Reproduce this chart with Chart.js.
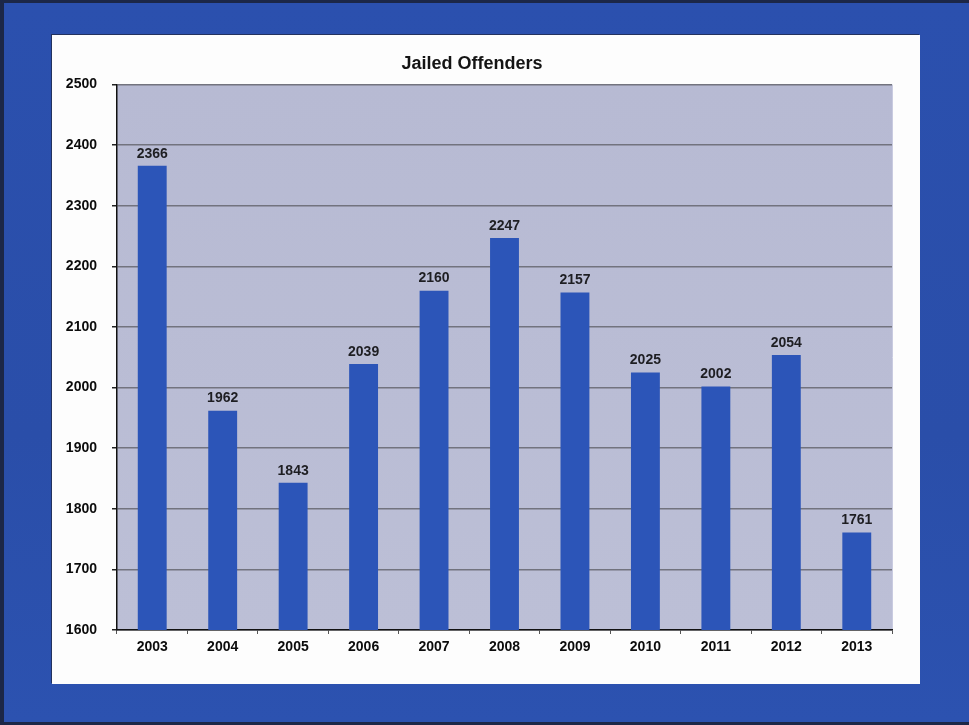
<!DOCTYPE html>
<html>
<head>
<meta charset="utf-8">
<script src="https://cdn.jsdelivr.net/npm/chart.js@4.4.1/dist/chart.umd.min.js"></script>
<style>
  html, body { margin: 0; padding: 0; }
  body {
    width: 969px; height: 725px; overflow: hidden;
    background: #2b50ae;
    position: relative;
    font-family: "Liberation Sans", Arial, sans-serif;
  }
  #frame {
    position: absolute; left: 0; top: 0; width: 965px; height: 719px;
    border-top: 3px solid #1c2747; border-left: 4px solid #1c2747;
    border-bottom: 3px solid #1c2747; border-right: 0;
    box-sizing: content-box;
    background: linear-gradient(180deg, #2b50ae 0%, #2a4ea9 60%, #2c52b0 100%);
  }
  #panel {
    position: absolute; left: 52px; top: 35px; width: 868px; height: 649px;
    background: #fdfdfd;
    box-shadow: -1px -1px 0 #23325e;
  }
  #chart { display: block; }
</style>
</head>
<body>
<div id="frame"></div>
<div id="panel"><canvas id="chart" width="868" height="649"></canvas></div>
<script>
// Jailed offenders per year
const years = ['2003', '2004', '2005', '2006', '2007', '2008', '2009', '2010', '2011', '2012', '2013'];
const offenders = [2366, 1962, 1843, 2039, 2160, 2247, 2157, 2025, 2002, 2054, 1761];
const yTicks = [1600, 1700, 1800, 1900, 2000, 2100, 2200, 2300, 2400, 2500];

const FONT = '"Liberation Sans", Arial, sans-serif';

// Lavender plot background behind the bars
const plotBackground = {
  id: 'plotBackground',
  beforeDraw(chart) {
    const { ctx, chartArea: a } = chart;
    ctx.save();
    const g = ctx.createLinearGradient(0, a.top, 0, a.bottom);
    g.addColorStop(0, '#b7bad3');
    g.addColorStop(1, '#bcbfd6');
    ctx.fillStyle = g;
    ctx.fillRect(a.left, a.top, a.right - a.left, a.bottom - a.top);
    ctx.strokeStyle = '#c9cbe0';
    ctx.lineWidth = 1;
    ctx.beginPath();
    ctx.moveTo(a.right + 0.5, a.top);
    ctx.lineTo(a.right + 0.5, a.bottom);
    ctx.stroke();
    ctx.restore();
  }
};

// Value printed above each bar
const valueLabels = {
  id: 'valueLabels',
  afterDatasetsDraw(chart) {
    const { ctx } = chart;
    const meta = chart.getDatasetMeta(0);
    ctx.save();
    ctx.font = 'bold 14px ' + FONT;
    ctx.fillStyle = '#1e1e22';
    ctx.textAlign = 'center';
    ctx.textBaseline = 'bottom';
    meta.data.forEach((bar, i) => {
      ctx.fillText(String(offenders[i]), bar.x, bar.y - 5);
    });
    ctx.restore();
  }
};

new Chart(document.getElementById('chart'), {
  type: 'bar',
  data: {
    labels: years,
    datasets: [{
      data: offenders,
      backgroundColor: '#2c55b8',
      borderWidth: 0,
      barPercentage: 0.5,
      categoryPercentage: 0.82
    }]
  },
  options: {
    responsive: false,
    animation: false,
    devicePixelRatio: 1,
    layout: { padding: { left: 0, right: 28, top: 0, bottom: 0 } },
    plugins: {
      legend: { display: false },
      tooltip: { enabled: false },
      title: {
        display: true,
        text: 'Jailed Offenders',
        color: '#141414',
        font: { family: FONT, size: 18, weight: 'bold' },
        padding: { top: 18, bottom: 10 }
      }
    },
    scales: {
      x: {
        grid: {
          display: true,
          drawOnChartArea: false,
          offset: true,
          color: '#555',
          tickLength: 4
        },
        border: { display: true, color: '#111', width: 1.5 },
        ticks: {
          color: '#0c0c0c',
          padding: 5,
          font: { family: FONT, size: 14, weight: 'bold' }
        },
        afterFit(scale) { scale.height = 54; }
      },
      y: {
        min: 1600,
        max: 2500,
        afterBuildTicks(scale) {
          scale.ticks = yTicks.map(v => ({ value: v }));
        },
        grid: {
          color: '#72737e',
          lineWidth: 1.5,
          tickLength: 5,
          tickColor: '#222'
        },
        border: { display: true, color: '#111', width: 1.5 },
        ticks: {
          color: '#0c0c0c',
          padding: 15,
          font: { family: FONT, size: 14, weight: 'bold' },
          callback: (v) => String(v)
        },
        afterFit(scale) { scale.width = 65; }
      }
    }
  },
  plugins: [plotBackground, valueLabels]
});
</script>
</body>
</html>
